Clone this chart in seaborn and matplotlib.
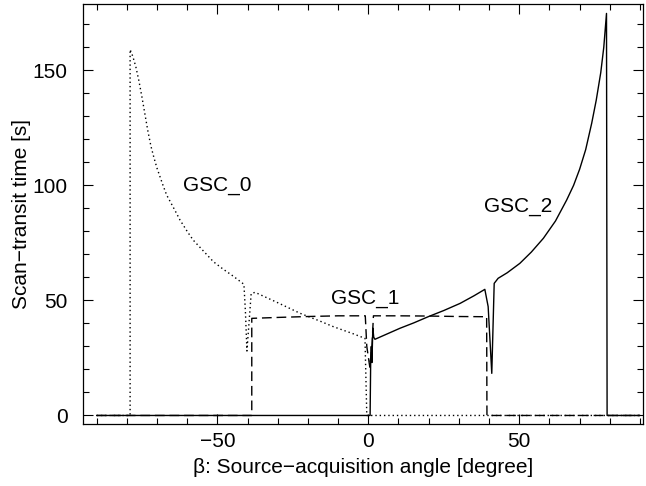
import matplotlib
matplotlib.use("Agg")
import matplotlib.pyplot as plt
import seaborn as sns
import pandas as pd
from matplotlib.ticker import MultipleLocator

# GSC_0 (dotted)
x0 = [-90, -78.9, -78.9, -78.0, -77.0, -76.0, -75.0, -74.0, -73.0, -72.0, -71.0, -70.0,
      -68.0, -66.8, -64.0, -62.4, -60.0, -58.0, -55.0, -51.3, -48.0, -44.7, -41.2,
      -40.7, -40.2, -38.8, -37.5, -35.0, -30.0, -22.6, -16.0, -11.6, -5.0,
      -1.1, -0.5, 90]
y0 = [0, 0, 159, 156, 151.5, 145.5, 138.5, 131, 123.5, 117, 112, 107.5,
      100, 95.8, 89, 85, 80, 76.2, 72, 66.8, 63.5, 60.5, 57,
      45, 28, 53, 53.5, 52, 49, 44.4, 41, 38.6, 35.5,
      33.5, 0, 0]

# GSC_1 (dashed)
x1 = [-90, -38.6, -38.6, -30, -20, -10, -1.0, -0.5, 0.5, 1.2, 1.7, 10, 20, 30, 39.2, 39.3, 90]
y1 = [0, 0, 42.2, 42.6, 43.0, 43.3, 43.3, 30, 21, 30, 43.3, 43.3, 43.2, 43.0, 42.9, 0, 0]

# GSC_2 (solid)
x2 = [-90, 0.6, 0.8, 1.0, 1.2, 1.5, 1.8, 2.2, 6, 10.5, 15, 20, 25, 30.4, 35, 38.6,
      39.7, 40.9, 41.7, 43.0, 46, 50.2, 54, 58, 62, 65.7, 68, 70, 72, 74, 75.5,
      77, 78, 78.9, 79.1, 90]
y2 = [0, 0, 25, 30, 23, 38, 34, 33.1, 35.3, 37.9, 40.2, 43, 45.6, 48.7, 52, 54.8,
      47.3, 18.3, 57.4, 59.6, 62, 66.1, 71, 77, 84.5, 93.6, 100, 107, 115.5, 127, 137,
      149, 160, 174.7, 0, 0]

labels = ["GSC_0", "GSC_1", "GSC_2"]
label_pos = [(-50.1, 100.1), (-1.1, 51.0), (49.6, 90.6)]

sns.set_style("ticks")
plt.rcParams['font.family'] = ['Liberation Sans', 'DejaVu Sans']
plt.rcParams['text.color'] = 'black'
plt.rcParams['axes.labelcolor'] = 'black'
plt.rcParams['xtick.color'] = 'black'
plt.rcParams['ytick.color'] = 'black'
fs = 15

fig = plt.figure(figsize=(6.46, 4.86), dpi=100)
ax = fig.add_axes([0.1285, 0.1276, 0.8669, 0.8642])

styles = [(0, (1, 2.1)), (0, (7, 3.5)), '-']
for xs, ys, ls in zip([x0, x1, x2], [y0, y1, y2], styles):
    df = pd.DataFrame({'beta': xs, 'time': ys})
    sns.lineplot(data=df, x='beta', y='time', sort=False, estimator=None,
                 color='black', linewidth=1.0, linestyle=ls, ax=ax)

for lab, (tx, ty) in zip(labels, label_pos):
    ax.text(tx, ty, lab, ha='center', va='center', fontsize=fs, color='black')

ax.set_xlim(-94.5, 91.0)
ax.set_ylim(-3.7, 178.8)
ax.xaxis.set_major_locator(MultipleLocator(50))
ax.xaxis.set_minor_locator(MultipleLocator(10))
ax.yaxis.set_major_locator(MultipleLocator(50))
ax.yaxis.set_minor_locator(MultipleLocator(10))
ax.tick_params(which='both', direction='in', top=True, right=True, width=0.8,
               labelsize=fs, color='black', labelcolor='black')
ax.tick_params(axis='x', pad=6)
ax.tick_params(axis='y', pad=11)
ax.tick_params(which='major', length=7)
ax.tick_params(which='minor', length=4)
for sp in ax.spines.values():
    sp.set_linewidth(0.9)
    sp.set_color('black')

ax.set_xlabel("β: Source\u2212acquisition angle [degree]", fontsize=fs, labelpad=5)
ax.set_ylabel("Scan\u2212transit time [s]", fontsize=fs, labelpad=1)

fig.savefig("out.png", dpi=100)
